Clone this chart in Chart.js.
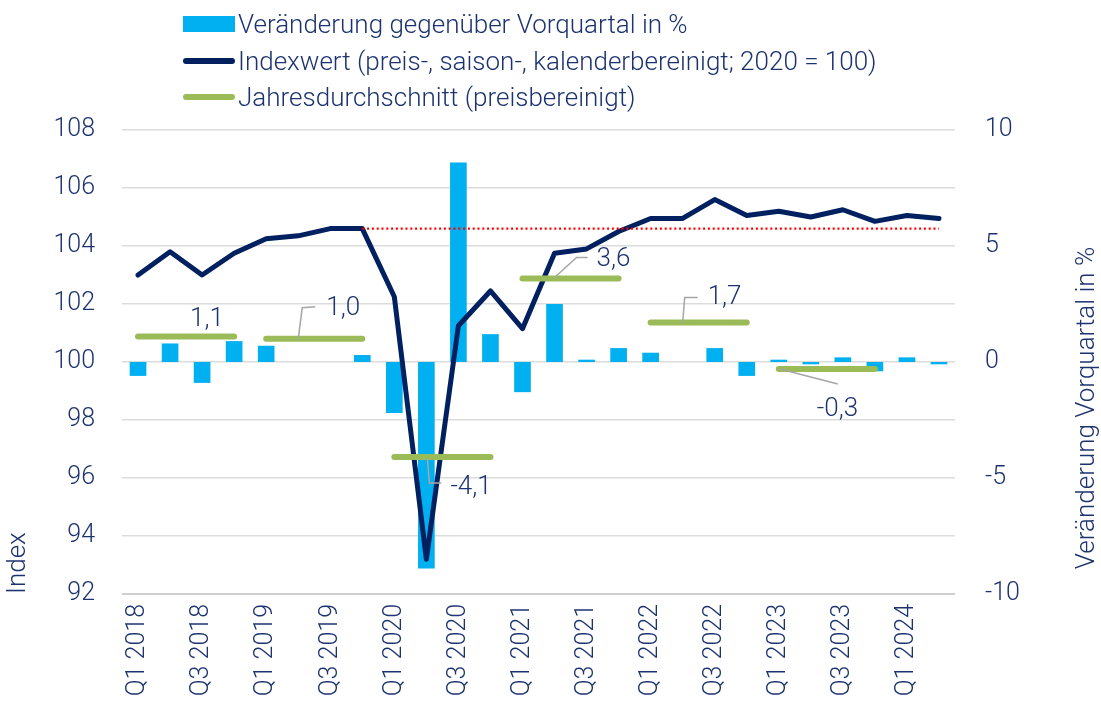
<!DOCTYPE html>
<html>
<head>
<meta charset="utf-8">
<script src="https://cdn.jsdelivr.net/npm/chart.js@4.4.1/dist/chart.umd.min.js"></script>
<style>
  html, body { margin: 0; padding: 0; background: #ffffff; }
  #wrap { position: relative; width: 1101px; height: 709px; }
  #legend { position: absolute; left: 183px; top: 6px; font-family: Roboto, 'Liberation Sans', Arial, sans-serif; font-weight: 300; font-size: 26px; color: #1c3370; }
  .li { display: flex; align-items: center; height: 36.5px; white-space: nowrap; }
  .sw { width: 52px; margin-right: 3px; flex: none; }
</style>
</head>
<body>
<div id="wrap">
  <canvas id="c" width="1101" height="709"></canvas>
  <div id="legend"></div>
</div>
<script>
// ---- data ----
const quarters = ['Q1 2018','Q2 2018','Q3 2018','Q4 2018','Q1 2019','Q2 2019','Q3 2019','Q4 2019',
  'Q1 2020','Q2 2020','Q3 2020','Q4 2020','Q1 2021','Q2 2021','Q3 2021','Q4 2021',
  'Q1 2022','Q2 2022','Q3 2022','Q4 2022','Q1 2023','Q2 2023','Q3 2023','Q4 2023',
  'Q1 2024','Q2 2024'];
const changePct = [-0.6, 0.8, -0.9, 0.9, 0.7, 0.0, 0.0, 0.3,
  -2.2, -8.9, 8.6, 1.2, -1.3, 2.5, 0.1, 0.6,
  0.4, 0.0, 0.6, -0.6, 0.1, -0.1, 0.2, -0.4,
  0.2, -0.1];
const indexValues = [103.0, 103.8, 103.0, 103.75, 104.25, 104.35, 104.6, 104.6,
  102.25, 93.2, 101.25, 102.45, 101.15, 103.75, 103.9, 104.5,
  104.95, 104.95, 105.6, 105.05, 105.2, 105.0, 105.25, 104.85,
  105.05, 104.95];
const annualYears = ['2018', '2019', '2020', '2021', '2022', '2023'];
const annualAvg = [1.1, 1.0, -4.1, 3.6, 1.7, -0.3];
const preCrisisLevel = 104.6;
const preCrisisFrom = 'Q4 2019';
const preCrisisTo = 'Q2 2024';
const leftTicks = { min: 92, max: 108, step: 2 };
const rightTicks = { min: -10, max: 10, step: 5 };

// ---- styles ----
const FONT = "Roboto, 'Liberation Sans', Arial, sans-serif";
const FW = 300;
const FS = 25;
const TXT = '#1c3370';
const NAVY = '#002060';
const CYAN = '#00b0f0';
const GREEN = '#9bbb59';
// label placement relative to the middle of each annual line (pixels)
const labelLayout = [
  { label: [4, -17], leader: null },
  { label: [12, -30], leader: [[-16, 0], [-12, -31], [1, -32]] },
  { label: [8, 30], leader: [[-15, 1], [-13, 26], [-1, 26]] },
  { label: [26, -19], leader: [[-16, -1], [6, -21], [17, -21]] },
  { label: [9, -25], leader: [[-16, 0], [-14, -25], [-1, -25]] },
  { label: [-10, 41], leader: [[-47, 0], [11, 15]] }
];

const annualPoints = [];
annualYears.forEach((y, i) => {
  annualPoints.push({ x: 'Q1 ' + y, y: annualAvg[i] });
  annualPoints.push({ x: 'Q4 ' + y, y: annualAvg[i] });
});

const annotPlugin = {
  id: 'annot',
  afterDatasetsDraw(chart) {
    const ctx = chart.ctx;
    const xs = chart.scales.x, y1 = chart.scales.y1;
    ctx.save();
    annualYears.forEach((yr, i) => {
      const xa = (xs.getPixelForValue(quarters.indexOf('Q1 ' + yr)) + xs.getPixelForValue(quarters.indexOf('Q4 ' + yr))) / 2;
      const ya = y1.getPixelForValue(annualAvg[i]);
      const L = labelLayout[i];
      if (L.leader) {
        ctx.beginPath();
        ctx.strokeStyle = '#a6a6a6';
        ctx.lineWidth = 1.5;
        L.leader.forEach((p, k) => {
          if (k === 0) ctx.moveTo(xa + p[0], ya + p[1]); else ctx.lineTo(xa + p[0], ya + p[1]);
        });
        ctx.stroke();
      }
      ctx.fillStyle = TXT;
      ctx.font = FW + ' 26px ' + FONT;
      ctx.textAlign = 'left';
      ctx.textBaseline = 'middle';
      ctx.fillText(annualAvg[i].toFixed(1).replace('.', ','), xa + L.label[0], ya + L.label[1]);
    });
    // right axis title, reading bottom-to-top
    ctx.translate(1087, 408);
    ctx.rotate(-Math.PI / 2);
    ctx.textAlign = 'center';
    ctx.textBaseline = 'middle';
    ctx.font = FW + ' 26px ' + FONT;
    ctx.fillText('Veränderung Vorquartal in %', 0, 0);
    ctx.restore();
  }
};

const tickFont = { family: FONT, size: FS, weight: FW };

const chart = new Chart(document.getElementById('c'), {
  data: {
    labels: quarters,
    datasets: [
      {
        type: 'line', label: 'Jahresdurchschnitt (preisbereinigt)', data: annualPoints,
        yAxisID: 'y1', borderColor: GREEN, borderWidth: 6, borderCapStyle: 'round',
        pointRadius: 0, order: 1,
        segment: { borderColor: c => (c.p0DataIndex % 2 === 1 ? 'rgba(0,0,0,0)' : undefined) }
      },
      {
        type: 'line', label: 'Vorkrisenniveau', data: [{ x: preCrisisFrom, y: preCrisisLevel }, { x: preCrisisTo, y: preCrisisLevel }],
        yAxisID: 'y', borderColor: '#ff0000', borderWidth: 2.2, borderDash: [2, 2.8],
        pointRadius: 0, order: 2
      },
      {
        type: 'line', label: 'Indexwert (preis-, saison-, kalenderbereinigt; 2020 = 100)', data: indexValues,
        yAxisID: 'y', borderColor: NAVY, borderWidth: 5, borderJoinStyle: 'round', borderCapStyle: 'round',
        pointRadius: 0, tension: 0, order: 3
      },
      {
        type: 'bar', label: 'Veränderung gegenüber Vorquartal in %', data: changePct,
        yAxisID: 'y1', backgroundColor: CYAN, barPercentage: 0.52, categoryPercentage: 1.0,
        order: 4
      }
    ]
  },
  options: {
    responsive: false,
    animation: false,
    layout: { padding: { top: 130, right: 0, left: 0, bottom: 0 } },
    plugins: { legend: { display: false }, tooltip: { enabled: false } },
    scales: {
      x: {
        type: 'category',
        offset: true,
        grid: { display: false, drawTicks: false },
        border: { display: false },
        ticks: {
          autoSkip: false, minRotation: 90, maxRotation: 90, padding: 10,
          color: TXT, font: tickFont,
          callback: function (v, i) { return i % 2 === 0 ? this.getLabelForValue(v) : ''; }
        },
        afterFit: s => { s.height = 115; }
      },
      y: {
        position: 'left', min: leftTicks.min, max: leftTicks.max,
        grid: { color: c => (c.tick && c.tick.value === leftTicks.min ? '#d0d0d0' : '#dcdcdc'), lineWidth: c => (c.tick && c.tick.value === leftTicks.min ? 2 : 1.5), drawTicks: false },
        border: { display: false },
        ticks: { stepSize: leftTicks.step, padding: 27, color: TXT, font: tickFont },
        title: { display: true, text: 'Index', align: 'start', color: TXT, font: { family: FONT, size: 26, weight: FW }, padding: { top: 3, bottom: 0 } },
        afterFit: s => { s.width = 122; }
      },
      y1: {
        position: 'right', min: rightTicks.min, max: rightTicks.max,
        grid: { display: false, drawTicks: false },
        border: { display: false },
        ticks: { stepSize: rightTicks.step, padding: 30, color: TXT, font: tickFont },
        afterFit: s => { s.width = 146; }
      }
    }
  },
  plugins: [annotPlugin]
});

// legend built from datasets
const leg = document.getElementById('legend');
[3, 2, 0].forEach(i => {
  const ds = chart.data.datasets[i];
  const row = document.createElement('div');
  row.className = 'li';
  const sw = document.createElement('div');
  sw.className = 'sw';
  if (ds.type === 'bar') {
    sw.style.height = '16px'; sw.style.background = ds.backgroundColor;
  } else {
    sw.style.height = '6px'; sw.style.background = ds.borderColor; sw.style.borderRadius = '3px';
  }
  const t = document.createElement('span');
  t.textContent = ds.label;
  row.appendChild(sw); row.appendChild(t);
  leg.appendChild(row);
});
</script>
</body>
</html>
